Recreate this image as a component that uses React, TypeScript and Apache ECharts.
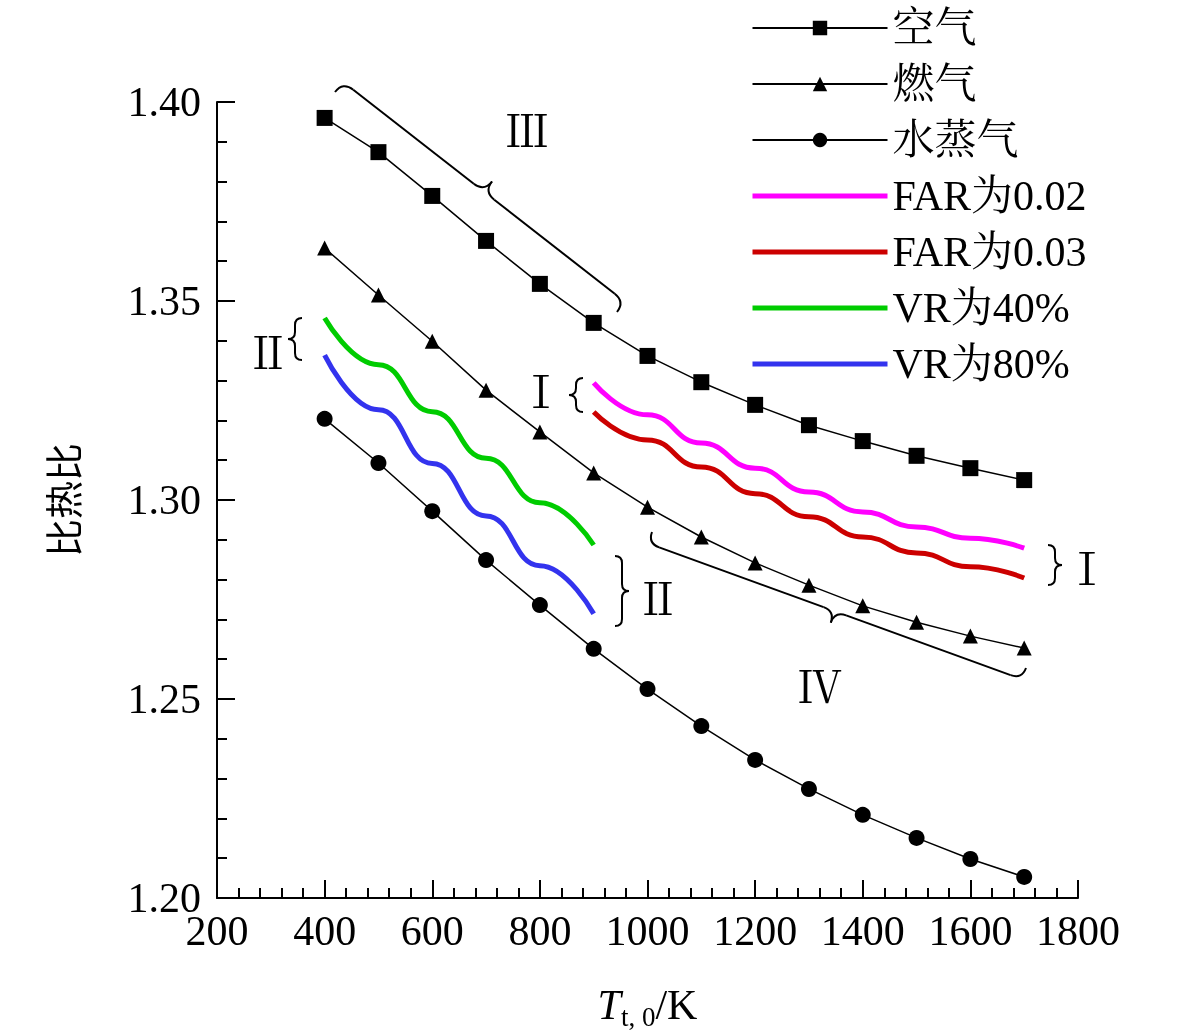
import React, { useEffect, useRef } from "react";
import * as echarts from "echarts";

const temps = [400, 500, 600, 700, 800, 900, 1000, 1100, 1200, 1300, 1400, 1500, 1600, 1700];
const air = [1.396, 1.3874, 1.3764, 1.3651, 1.3543, 1.3445, 1.3362, 1.3296, 1.3239, 1.3188, 1.3148, 1.3111, 1.308, 1.305];
const gas = [1.3633, 1.3515, 1.3399, 1.3276, 1.3171, 1.3068, 1.2982, 1.2907, 1.2842, 1.2786, 1.2734, 1.2693, 1.2658, 1.2628];
const steam = [1.3204, 1.3093, 1.2972, 1.2849, 1.2736, 1.2626, 1.2525, 1.2432, 1.2347, 1.2274, 1.2209, 1.2151, 1.2098, 1.2053];

const hotTemps = [900, 1000, 1100, 1200, 1300, 1400, 1500, 1600, 1700];
const far02 = [1.3294, 1.3214, 1.3143, 1.308, 1.302, 1.297, 1.2932, 1.2904, 1.2879];
const far03 = [1.3221, 1.3151, 1.3083, 1.3016, 1.2958, 1.2907, 1.2867, 1.2832, 1.2804];

const coldTemps = [400, 500, 600, 700, 800, 900];
const vr40 = [1.3457, 1.334, 1.3222, 1.3105, 1.2993, 1.2887];
const vr80 = [1.3364, 1.3227, 1.3092, 1.296, 1.2835, 1.2714];

const names = ["空气", "燃气", "水蒸气", "FAR为0.02", "FAR为0.03", "VR为40%", "VR为80%"];

const FONT = "'Liberation Serif', 'Times New Roman', 'Noto Serif CJK SC', 'Noto Sans CJK SC', serif";

const zip = (xs: number[], ys: number[]) => xs.map((x, i) => [x, ys[i]]);

// curly brace from p0 to p1, tip pushed along the normal by 2h
function brace(p0: number[], p1: number[], h: number, side: number) {
  const dx = p1[0] - p0[0];
  const dy = p1[1] - p0[1];
  const len = Math.hypot(dx, dy);
  const u = [dx / len, dy / len];
  const n = [-u[1] * side, u[0] * side];
  const pt = (along: number, off: number) => [p0[0] + u[0] * along + n[0] * off, p0[1] + u[1] * along + n[1] * off];
  const r = Math.min(h, len / 4);
  const m = len / 2;
  const style = { stroke: "#000", lineWidth: 2, fill: "none" };
  const q = (a: number[], c: number[], b: number[]) => ({
    type: "bezierCurve",
    shape: { x1: a[0], y1: a[1], cpx1: c[0], cpy1: c[1], x2: b[0], y2: b[1] },
    style,
  });
  const l = (a: number[], b: number[]) => ({
    type: "line",
    shape: { x1: a[0], y1: a[1], x2: b[0], y2: b[1] },
    style,
  });
  return {
    type: "group",
    children: [
      q(pt(0, 0), pt(0, h), pt(r, h)),
      l(pt(r, h), pt(m - r, h)),
      q(pt(m - r, h), pt(m, h), pt(m, 2 * h)),
      q(pt(m, 2 * h), pt(m, h), pt(m + r, h)),
      l(pt(m + r, h), pt(len - r, h)),
      q(pt(len - r, h), pt(len, h), pt(len, 0)),
    ],
  };
}

const roman = (text: string, x: number, y: number) => ({
  type: "text",
  x,
  y,
  style: { text, font: `44px ${FONT}`, fill: "#000", align: "center", verticalAlign: "middle" },
});

const App: React.FC = () => {
  const chartRef = useRef<HTMLDivElement>(null);

  useEffect(() => {
    if (!chartRef.current) return;
    const chart = echarts.init(chartRef.current, null, { renderer: "svg" });

    const black = (name: string, ys: number[], symbol: string, size: number) => ({
      name,
      type: "line",
      data: zip(temps, ys),
      symbol,
      symbolSize: size,
      lineStyle: { color: "#000", width: 1.5 },
      itemStyle: { color: "#000" },
    });
    const colored = (name: string, xs: number[], ys: number[], color: string) => ({
      name,
      type: "line",
      data: zip(xs, ys),
      smooth: true,
      smoothMonotone: "x",
      showSymbol: false,
      symbol: "none",
      lineStyle: { color, width: 5 },
      itemStyle: { color },
    });

    chart.setOption({
      animation: false,
      textStyle: { fontFamily: FONT },
      grid: { left: 217, right: 103, top: 102, bottom: 138, containLabel: false },
      legend: {
        orient: "vertical",
        left: 745,
        top: 2,
        itemWidth: 135,
        itemHeight: 18,
        itemGap: 14,
        data: names.map((name, i) => ({
          name,
          itemStyle: i < 3 ? undefined : { opacity: 0 },
          lineStyle: { width: i < 3 ? 2 : 5 },
        })),
        textStyle: { fontSize: 42, fontFamily: FONT, color: "#000", lineHeight: 42 },
      },
      xAxis: {
        type: "value",
        min: 200,
        max: 1800,
        interval: 200,
        name: "{i|T}{s|t, 0}{n|/K}",
        nameLocation: "middle",
        nameGap: 82,
        nameTextStyle: {
          rich: {
            i: { fontSize: 42, fontStyle: "italic", fontFamily: FONT, color: "#000" },
            s: { fontSize: 27, fontFamily: FONT, color: "#000", padding: [24, 0, 0, 0] },
            n: { fontSize: 42, fontFamily: FONT, color: "#000" },
          },
        },
        axisLine: { lineStyle: { color: "#000", width: 2 } },
        axisTick: { inside: true, length: 18, lineStyle: { color: "#000", width: 2 } },
        minorTick: { show: true, splitNumber: 5, length: 10, lineStyle: { color: "#000", width: 2 } },
        axisLabel: { fontSize: 42, color: "#000", margin: 12, fontFamily: FONT, formatter: (v: number) => String(v) },
        splitLine: { show: false },
      },
      yAxis: {
        type: "value",
        min: 1.2,
        max: 1.4,
        interval: 0.05,
        name: "比热比",
        nameLocation: "middle",
        nameGap: 137,
        nameRotate: 90,
        nameTextStyle: { fontSize: 38, color: "#000", fontFamily: "'Noto Sans CJK SC', serif" },
        axisLine: { lineStyle: { color: "#000", width: 2 } },
        axisTick: { inside: true, length: 18, lineStyle: { color: "#000", width: 2 } },
        minorTick: { show: true, splitNumber: 5, length: 10, lineStyle: { color: "#000", width: 2 } },
        axisLabel: { fontSize: 42, color: "#000", margin: 16, fontFamily: FONT, formatter: (v: number) => v.toFixed(2) },
        splitLine: { show: false },
      },
      graphic: [
        brace([335, 92], [617, 312], 13, -1),
        roman("Ⅲ", 527, 132),
        brace([302, 360], [302, 318], 7, -1),
        roman("Ⅱ", 268, 354),
        brace([615, 556], [615, 626], 7, -1),
        roman("Ⅱ", 658, 600),
        brace([583, 412], [583, 378], 7, -1),
        roman("Ⅰ", 541, 393),
        brace([1048, 545], [1048, 585], 7, -1),
        roman("Ⅰ", 1087, 570),
        brace([652, 532], [1026, 668], 12, 1),
        roman("Ⅳ", 820, 688),
      ],
      series: [
        black(names[0], air, "rect", 16),
        black(names[1], gas, "triangle", 15),
        black(names[2], steam, "circle", 16),
        colored(names[3], hotTemps, far02, "#ff00ff"),
        colored(names[4], hotTemps, far03, "#cc0000"),
        colored(names[5], coldTemps, vr40, "#00cc00"),
        colored(names[6], coldTemps, vr80, "#3333ee"),
      ],
    });

    return () => chart.dispose();
  }, []);

  return <div ref={chartRef} style={{ position: "fixed", left: 0, top: 0, width: 1181, height: 1036 }} />;
};

export default App;
